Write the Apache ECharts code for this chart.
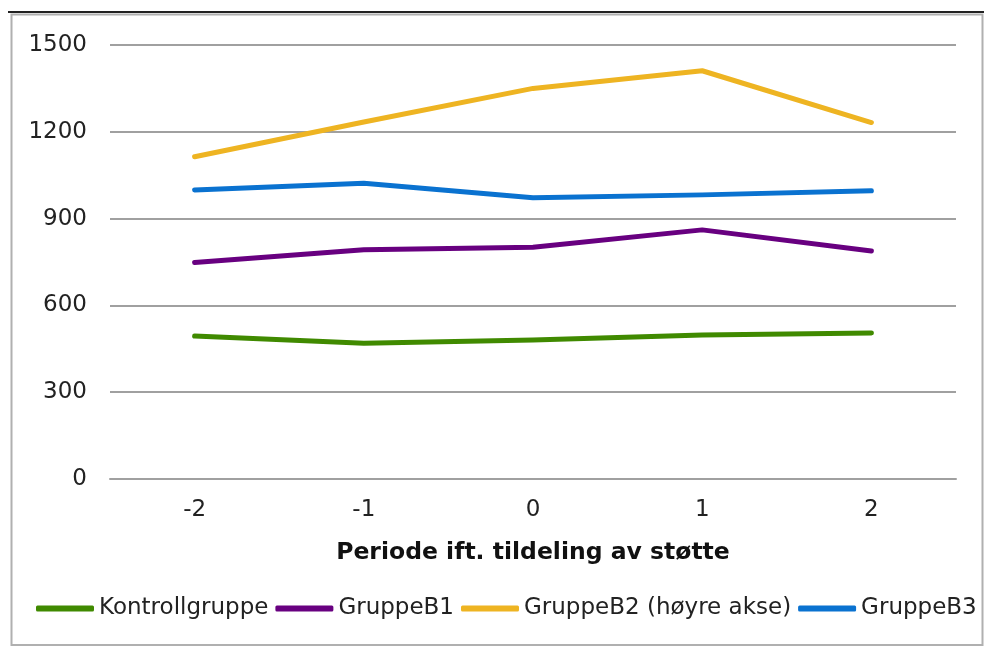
<!DOCTYPE html>
<html>
<head>
<meta charset="utf-8">
<script src="https://cdn.jsdelivr.net/npm/echarts@6/dist/echarts.min.js"></script>
<style>
    html, body { margin: 0; padding: 0; background: #fff; }
    #char1 { width: 984px; height: 646px; }
</style>
</head>
<body>
<div id="char1"></div>
<script>
// data
var periods = ["-2", "-1", "0", "1", "2"];
var kontroll = [494, 469, 480, 498, 505];
var gruppeB1 = [748, 792, 801, 861, 788];
var gruppeB2 = [1114, 1234, 1350, 1411, 1232];
var gruppeB3 = [999, 1022, 972, 982, 996];
var yTicks = [0, 300, 600, 900, 1200, 1500];

var font = "DejaVu Sans";

function lineSeries(name, data, color) {
    return {
        name: name,
        type: "line",
        data: data,
        showSymbol: false,
        symbol: "none",
        smooth: false,
        itemStyle: { color: color },
        lineStyle: { color: color, width: 5, cap: "round", join: "round" },
    };
}

function char1() {
    var myChart = echarts.init(document.getElementById("char1"));

    var option = {
        animation: false,
        textStyle: { fontFamily: font },
        graphic: [
            {
                type: "rect",
                shape: { x: 11.5, y: 14.5, width: 971, height: 630.5 },
                style: { fill: "none", stroke: "#b0b0b0", lineWidth: 2 },
            },
            {
                type: "line",
                shape: { x1: 8, y1: 12, x2: 984, y2: 12 },
                style: { stroke: "#222", lineWidth: 2 },
            },
        ],
        grid: {
            left: 110,
            right: 28,
            top: 45,
            bottom: 167,
        },
        legend: {
            left: 36,
            top: 597,
            width: 1100,
            padding: 0,
            icon: "roundRect",
            itemWidth: 58,
            itemHeight: 6,
            itemGap: 7,
            textStyle: { color: "#222", fontSize: 23, fontFamily: font },
            data: ["Kontrollgruppe", "GruppeB1", "GruppeB2 (høyre akse)", "GruppeB3"],
        },
        xAxis: {
            type: "category",
            data: periods,
            name: "Periode ift. tildeling av støtte",
            nameLocation: "middle",
            nameGap: 62,
            nameTextStyle: { color: "#111", fontSize: 23.5, fontWeight: "bold", fontFamily: font },
            axisLine: { show: true, lineStyle: { color: "#a0a0a0", width: 2 } },
            axisTick: { show: false },
            axisLabel: { color: "#222", fontSize: 23, margin: 20, fontFamily: font },
        },
        yAxis: {
            type: "value",
            min: yTicks[0],
            max: yTicks[yTicks.length - 1],
            interval: yTicks[1] - yTicks[0],
            axisLine: { show: false },
            axisTick: { show: false },
            axisLabel: {
                color: "#222",
                fontSize: 23,
                margin: 23,
                fontFamily: font,
                formatter: function (v) {
                    return String(v);
                },
            },
            splitLine: { lineStyle: { color: "#a0a0a0", width: 2 } },
        },
        series: [
            lineSeries("Kontrollgruppe", kontroll, "#408a00"),
            lineSeries("GruppeB1", gruppeB1, "#680080"),
            lineSeries("GruppeB2 (høyre akse)", gruppeB2, "#eeb422"),
            lineSeries("GruppeB3", gruppeB3, "#0a72d0"),
        ],
    };

    myChart.setOption(option);
    window.addEventListener("resize", function () {
        myChart.resize();
    });
}

char1();
</script>
</body>
</html>
